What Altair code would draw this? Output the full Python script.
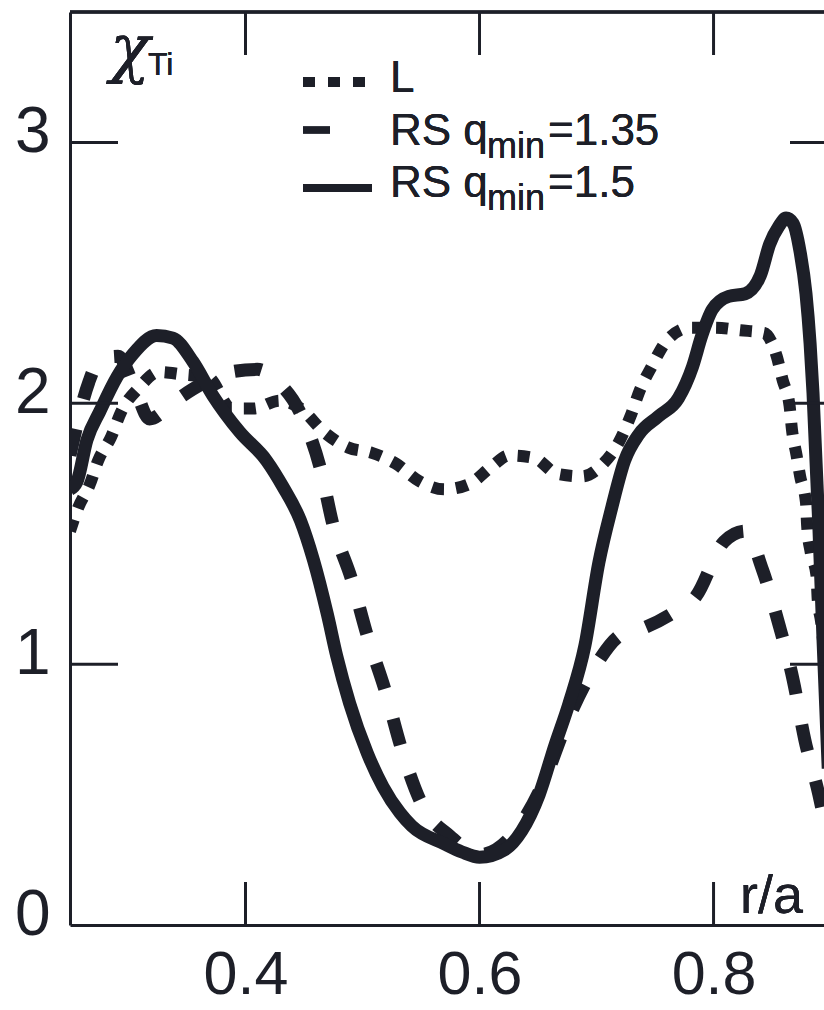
import altair as alt
import pandas as pd

INK = "#1d1f28"

# ---- data ----
r_L = [0.250, 0.257, 0.267, 0.274, 0.285, 0.294, 0.309, 0.326, 0.347, 0.368,
       0.388, 0.407, 0.429, 0.447, 0.467, 0.488, 0.508, 0.528, 0.549, 0.570,
       0.591, 0.611, 0.625, 0.647, 0.666, 0.688, 0.706, 0.719, 0.729, 0.737,
       0.747, 0.760, 0.780, 0.801, 0.823, 0.843, 0.854, 0.859, 0.865, 0.867,
       0.871, 0.874, 0.879, 0.880, 0.883, 0.888, 0.889, 0.892, 0.894, 0.898]
chi_L = [1.51, 1.60, 1.69, 1.78, 1.87, 1.97, 2.06, 2.12, 2.11, 2.10,
         1.98, 1.98, 2.01, 1.98, 1.89, 1.83, 1.81, 1.77, 1.70, 1.67,
         1.69, 1.76, 1.80, 1.79, 1.73, 1.72, 1.77, 1.85, 1.95, 2.05,
         2.14, 2.24, 2.29, 2.29, 2.28, 2.27, 2.18, 2.09, 1.99, 1.90,
         1.80, 1.72, 1.62, 1.53, 1.43, 1.34, 1.25, 1.16, 1.07, 0.85]

r_RS135 = [0.250, 0.266, 0.276, 0.291, 0.306, 0.318, 0.340, 0.361, 0.387, 0.410,
           0.428, 0.446, 0.464, 0.475, 0.491, 0.504, 0.520, 0.533, 0.551, 0.575,
           0.600, 0.629, 0.656, 0.674, 0.700, 0.720, 0.741, 0.763, 0.785, 0.809,
           0.827, 0.842, 0.856, 0.868, 0.878, 0.890, 0.897]
chi_RS135 = [1.80, 2.08, 2.17, 2.18, 2.05, 1.94, 2.01, 2.07, 2.12, 2.13,
             2.08, 1.97, 1.75, 1.53, 1.32, 1.11, 0.89, 0.68, 0.46, 0.34,
             0.27, 0.35, 0.56, 0.77, 1.00, 1.11, 1.14, 1.19, 1.26, 1.47,
             1.51, 1.36, 1.15, 0.94, 0.71, 0.50, 0.35]

r_RS15 = [0.250, 0.256, 0.2645, 0.2756, 0.290, 0.304, 0.324, 0.338, 0.355, 0.372,
          0.395, 0.418, 0.432, 0.447, 0.458, 0.470, 0.478, 0.489, 0.504, 0.5175,
          0.532, 0.542, 0.5705, 0.585, 0.600, 0.622, 0.636, 0.651, 0.6645, 0.6765,
          0.690, 0.702, 0.713, 0.724, 0.736, 0.753, 0.770, 0.782, 0.790, 0.799,
          0.813, 0.827, 0.840, 0.848, 0.856, 0.862, 0.868, 0.874, 0.879, 0.8825,
          0.885, 0.890, 0.8935, 0.898]
chi_RS15 = [1.67, 1.70, 1.86, 1.97, 2.10, 2.19, 2.26, 2.25, 2.16, 2.03,
            1.89, 1.78, 1.68, 1.55, 1.40, 1.19, 1.03, 0.85, 0.66, 0.53,
            0.43, 0.38, 0.31, 0.28, 0.26, 0.29, 0.36, 0.50, 0.69, 0.85,
            1.07, 1.39, 1.60, 1.78, 1.88, 1.95, 2.02, 2.14, 2.26, 2.36,
            2.41, 2.42, 2.49, 2.61, 2.68, 2.71, 2.69, 2.58, 2.42, 2.23,
            2.04, 1.53, 1.10, 0.60]

x_ticks = [0.4, 0.6, 0.8]
y_ticks = [0, 1, 2, 3]
y_inner_ticks = [1, 2, 3]

X_DOMAIN = [0.25, 0.8944]
Y_DOMAIN = [0, 3.5]
W, H = 754, 913

xs = alt.Scale(domain=X_DOMAIN, nice=False, zero=False)
ys = alt.Scale(domain=Y_DOMAIN, nice=False, zero=False)

FONT = "Liberation Sans"


def line_layer(r, chi, width, dash=None):
    df = pd.DataFrame({"r": r, "chi": chi})
    kw = dict(color=INK, strokeWidth=width, clip=True, interpolate="monotone",
              strokeCap="butt", strokeJoin="round")
    if dash:
        kw["strokeDash"] = dash
    return alt.Chart(df).mark_line(**kw).encode(
        x=alt.X("r:Q", scale=xs, title=None,
                axis=alt.Axis(values=x_ticks, format=".1f", ticks=False, grid=False,
                              domainColor=INK, domainWidth=3, labelFontSize=61,
                              labelFont=FONT, labelColor=INK, labelPadding=20)),
        y=alt.Y("chi:Q", scale=ys, title=None,
                axis=alt.Axis(values=y_ticks, format="d", ticks=False, grid=False,
                              domainColor=INK, domainWidth=3, labelFontSize=64,
                              labelFont=FONT, labelColor=INK, labelPadding=20,
                              labelOffset=-10)),
        order=alt.Order("r:Q"),
    )


dotted = line_layer(r_L, chi_L, 12, [12, 12])
dashed = line_layer(r_RS135, chi_RS135, 13, [27, 31])
solid = line_layer(r_RS15, chi_RS15, 13)

tx = pd.DataFrame({"t": x_ticks})
ty = pd.DataFrame({"t": y_inner_ticks})

bottom_ticks = alt.Chart(tx).mark_rule(color=INK, strokeWidth=3).encode(
    x=alt.X("t:Q", scale=xs), y=alt.value(H - 43), y2=alt.value(H))
top_ticks = alt.Chart(tx).mark_rule(color=INK, strokeWidth=3).encode(
    x=alt.X("t:Q", scale=xs), y=alt.value(0), y2=alt.value(43))
left_ticks = alt.Chart(ty).mark_rule(color=INK, strokeWidth=3).encode(
    y=alt.Y("t:Q", scale=ys), x=alt.value(0), x2=alt.value(48))
right_ticks = alt.Chart(ty).mark_rule(color=INK, strokeWidth=3).encode(
    y=alt.Y("t:Q", scale=ys), x=alt.value(720), x2=alt.value(W))
top_border = alt.Chart(tx).mark_rule(color=INK, strokeWidth=3).encode(
    x=alt.value(0), x2=alt.value(W), y=alt.value(0))


def txt(s, x, y, size, font=FONT, style="normal"):
    return alt.Chart(tx).mark_text(
        text=s, font=font, fontSize=size, color=INK, align="left",
        baseline="alphabetic", fontStyle=style).encode(x=alt.value(x), y=alt.value(y))


def sym(x1, x2, y, width, dash=None):
    kw = dict(color=INK, strokeWidth=width, strokeCap="butt")
    if dash:
        kw["strokeDash"] = dash
    return alt.Chart(tx).mark_rule(**kw).encode(
        x=alt.value(x1), x2=alt.value(x2), y=alt.value(y))


legend = [
    sym(233, 295, 70, 10, [12, 13]),
    sym(233, 260, 118, 7),
    sym(233, 302, 176, 8),
    txt("L", 320, 80, 44),
    txt("RS q", 320, 133, 44),
    txt("min", 417, 146, 36),
    txt("=1.35", 478, 133, 44),
    txt("RS q", 320, 185, 44),
    txt("min", 417, 198, 36),
    txt("=1.5", 478, 185, 44),
    txt("χ", 40, 58, 66, font="DejaVu Serif", style="italic"),
    txt("Ti", 78, 63, 32),
    txt("r/a", 670, 901, 54),
]

chart = alt.layer(
    dotted, dashed, solid,
    bottom_ticks, top_ticks, left_ticks, right_ticks, top_border,
    *legend,
).properties(
    width=W, height=H,
    padding={"left": 70, "top": 12, "right": 0, "bottom": 85},
    autosize=alt.AutoSizeParams(type="none"),
    background="white",
).configure_view(stroke=None)

chart.save("out.html", embed_options={"renderer": "svg", "actions": False})
